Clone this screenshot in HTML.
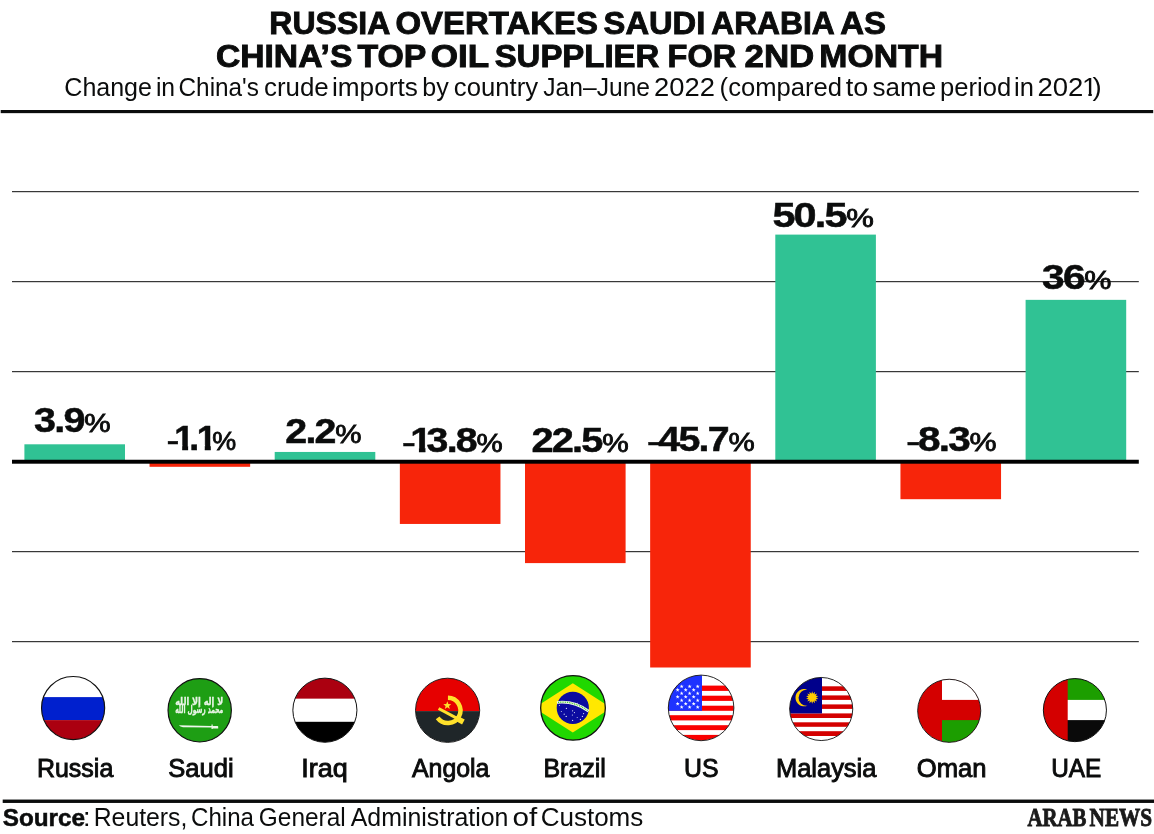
<!DOCTYPE html>
<html lang="en">
<head>
<meta charset="utf-8">
<title>Russia overtakes Saudi Arabia as China's top oil supplier for 2nd month</title>
<style>
html,body{margin:0;padding:0;background:#fff}
#chart{position:relative;width:1154px;height:834px;overflow:hidden;background:#fff;font-family:"Liberation Sans",sans-serif;color:#0b0c0c}
#chart h1,#chart p{margin:0;line-height:1}
#gfx{position:absolute;left:0;top:0;display:block}
.t{position:absolute;left:0;top:0;white-space:nowrap;line-height:1;transform-origin:0 0;letter-spacing:0}
.ttl{-webkit-text-stroke:.9px #0b0c0c}
.v{-webkit-text-stroke:.5px #0b0c0c;letter-spacing:-.045em}
.v .pc{font-size:75%;font-weight:400;-webkit-text-stroke:.8px #0b0c0c;letter-spacing:0;margin-left:.02em}
.v .m{display:inline-block;font-weight:400;-webkit-text-stroke:.3px #0b0c0c;transform:translateY(2px) scaleX(1.12);transform-origin:100% 50%;margin-right:-.02em}
.v .m+.one{margin-left:-.08em}
.v .one{display:inline-block;letter-spacing:0;clip-path:polygon(0 0,.39em 0,.39em 100%,.222em 100%,.222em .7em,0 .7em);margin:0 -.14em 0 -.02em}
.cn{-webkit-text-stroke:.9px #0b0c0c}
.sb{-webkit-text-stroke:.5px #0b0c0c}
.logo{font-family:"Liberation Serif",serif;color:#1a1a1a;-webkit-text-stroke:.9px #1a1a1a}
.sub .one{display:inline-block;clip-path:polygon(0 0,.36em 0,.36em 100%,.235em 100%,.235em .72em,0 .72em);margin:0 -.17em 0 -.05em}

</style>
</head>
<body>
<div id="chart">
<svg id="gfx" width="1154" height="834" viewBox="0 0 1154 834">
<defs>
<clipPath id="c-ru"><circle cx="73.1" cy="708.05" r="31.60"/></clipPath>
<clipPath id="c-sa"><circle cx="199.7" cy="710.3" r="31.70"/></clipPath>
<clipPath id="c-iq"><circle cx="324.9" cy="710.2" r="32.00"/></clipPath>
<clipPath id="c-ao"><circle cx="447.6" cy="710.3" r="32.00"/></clipPath>
<clipPath id="c-br"><circle cx="573.0" cy="707.9" r="32.40"/></clipPath>
<clipPath id="c-us"><circle cx="701.1" cy="707.9" r="32.70"/></clipPath>
<clipPath id="c-my"><circle cx="821.2" cy="709.0" r="31.45"/></clipPath>
<clipPath id="c-om"><circle cx="949.2" cy="710.8" r="31.45"/></clipPath>
<clipPath id="c-ae"><circle cx="1074.9" cy="710.1" r="31.50"/></clipPath>
</defs>
<g id="rules" fill="#0b0c0c">
<rect x="0.7" y="110" width="1152.5" height="3.15"/>
<rect x="2.7" y="799.55" width="1151.3" height="3.4"/>
</g>
<g id="grid" fill="#383838">
<rect x="12" y="191" width="1126.8" height="1.22"/>
<rect x="12" y="281" width="1126.8" height="1.22"/>
<rect x="12" y="371" width="1126.8" height="1.22"/>
<rect x="12" y="551" width="1126.8" height="1.22"/>
<rect x="12" y="641" width="1126.8" height="1.22"/>
</g>
<g id="bars">
<rect x="24.40" y="444.30" width="100.6" height="17.55" fill="#30c294"/>
<rect x="149.55" y="461.85" width="100.6" height="4.95" fill="#f7250a"/>
<rect x="274.70" y="451.95" width="100.6" height="9.90" fill="#30c294"/>
<rect x="399.85" y="461.85" width="100.6" height="62.10" fill="#f7250a"/>
<rect x="525.00" y="461.85" width="100.6" height="101.25" fill="#f7250a"/>
<rect x="650.15" y="461.85" width="100.6" height="205.65" fill="#f7250a"/>
<rect x="775.30" y="234.60" width="100.6" height="227.25" fill="#30c294"/>
<rect x="900.45" y="461.85" width="100.6" height="37.35" fill="#f7250a"/>
<rect x="1025.60" y="299.85" width="100.6" height="162.00" fill="#30c294"/>
</g>
<rect id="axis" x="12" y="459.75" width="1126.8" height="3.95" fill="#000"/>
<g id="flags" stroke-linejoin="round">
<!-- Russia -->
<g clip-path="url(#c-ru)">
<rect x="40" y="675" width="67" height="22.1" fill="#fff"/>
<rect x="40" y="697.1" width="67" height="23" fill="#0020ce"/>
<rect x="40" y="720.1" width="67" height="21" fill="#ab0010"/>
</g>
<circle cx="73.1" cy="708.05" r="31.57" fill="none" stroke="#111" stroke-width="1.15"/>
<!-- Saudi -->
<g clip-path="url(#c-sa)">
<rect x="166" y="677" width="68" height="67" fill="#1e9e14"/>
<text x="199.2" y="704.9" text-anchor="middle" textLength="48" lengthAdjust="spacingAndGlyphs" font-family="'DejaVu Sans',sans-serif" font-weight="700" font-size="10.6" fill="#e9f5e6" stroke="#e9f5e6" stroke-width=".3" direction="rtl" xml:lang="ar">لا إله إلا الله</text>
<text x="199.2" y="713.3" text-anchor="middle" textLength="48" lengthAdjust="spacingAndGlyphs" font-family="'DejaVu Sans',sans-serif" font-weight="700" font-size="10.6" fill="#e9f5e6" stroke="#e9f5e6" stroke-width=".3" direction="rtl" xml:lang="ar">محمد رسول الله</text>
<path d="M178.8 725.3 L211.5 725.9 L211.5 724.4 L212.7 724.4 L212.7 725.9 L217.6 725.9 L218.2 726.6 L218.2 728.6 L212.7 728.6 L212.7 729 L211.5 729 L211.5 727.5 L183 727.3 Q180.2 726.8 178.8 725.3Z" fill="#eef7ec"/>
</g>
<circle cx="199.7" cy="710.3" r="31.68" fill="none" stroke="#111" stroke-width="1.15"/>
<!-- Iraq -->
<g clip-path="url(#c-iq)">
<rect x="291" y="676" width="68" height="22.8" fill="#ab0010"/>
<rect x="291" y="698.8" width="68" height="23" fill="#fff"/>
<rect x="291" y="721.8" width="68" height="22" fill="#000"/>
</g>
<circle cx="324.9" cy="710.2" r="32.05" fill="none" stroke="#111" stroke-width="1.0"/>
<!-- Angola -->
<g clip-path="url(#c-ao)">
<rect x="414" y="677" width="68" height="34.1" fill="#e60000"/>
<rect x="414" y="711.1" width="68" height="33" fill="#1f2629"/>
<g fill="none" stroke="#ffe12b">
<path d="M447.94 697.77 A12.65 12.65 0 1 1 437.6 717.9" stroke-width="4.5"/>
<path d="M438.6 708.5 L458.5 719.2" stroke-width="3.1"/>
<path d="M455.8 717.9 L463.4 722" stroke-width="5.6"/>
</g>
<path d="M447.3 701.3 l1.05 2.75 2.95 .15 -2.3 1.85 .77 2.85 -2.47 -1.62 -2.47 1.62 .77 -2.85 -2.3 -1.85 2.95 -.15z" fill="#ffe12b"/>
</g>
<circle cx="447.6" cy="710.3" r="32.10" fill="none" stroke="#111" stroke-width="0.9"/>
<!-- Brazil -->
<g clip-path="url(#c-br)">
<rect x="539" y="674" width="68" height="68" fill="#20d800"/>
<path d="M572.8 683.3 L611.2 707.9 L572.8 732.5 L534.4 707.9Z" fill="#ffe800"/>
<circle cx="572.8" cy="707.9" r="16.1" fill="#0b0ba0"/>
<path d="M556.9 702.5 Q574 700.6 588.6 711.2" fill="none" stroke="#f2f7ee" stroke-width="2.7"/>
<path d="M558 702.4 Q574 700.7 587.6 710.5" fill="none" stroke="#2fc41a" stroke-width="1.3" stroke-dasharray=".9 .9"/>
<g fill="#dfe3f5">
<circle cx="566.4" cy="708.4" r=".6"/><circle cx="561.3" cy="711.6" r=".5"/><circle cx="564.2" cy="714.2" r=".6"/>
<circle cx="566.2" cy="716.4" r=".7"/><circle cx="572.6" cy="710.8" r=".6"/><circle cx="574.4" cy="712.6" r=".6"/>
<circle cx="572.4" cy="715" r=".6"/><circle cx="572.6" cy="720.4" r=".6"/><circle cx="577.2" cy="717.4" r=".5"/>
<circle cx="580.4" cy="719.4" r=".6"/><circle cx="582.4" cy="716.4" r=".6"/><circle cx="583.6" cy="713.6" r=".6"/>
<circle cx="559.4" cy="705.6" r=".5"/><circle cx="577.4" cy="703.2" r=".5"/>
</g>
</g>
<circle cx="573" cy="707.9" r="32.33" fill="none" stroke="#111" stroke-width="1.25"/>
<!-- US -->
<g clip-path="url(#c-us)">
<rect x="667" y="674" width="69" height="68" fill="#fff"/>
<g fill="#fa0000">
<rect x="667" y="685.6" width="69" height="5.3"/><rect x="667" y="695.7" width="69" height="5.2"/>
<rect x="667" y="705.7" width="69" height="5.1"/><rect x="667" y="715.2" width="69" height="5.2"/>
<rect x="667" y="725.2" width="69" height="4.9"/><rect x="667" y="734.9" width="69" height="6.5"/>
</g>
<rect x="667" y="674" width="35" height="36.8" fill="#1e33ff"/>
<g fill="#fff" id="us-stars">
<path d="M681.67 684.41 L682.17 685.82 L683.67 685.86 L682.48 686.77 L682.90 688.21 L681.67 687.36 L680.44 688.21 L680.86 686.77 L679.67 685.86 L681.17 685.82Z"/>
<path d="M689.64 684.41 L690.13 685.82 L691.63 685.86 L690.44 686.77 L690.87 688.21 L689.64 687.36 L688.40 688.21 L688.83 686.77 L687.64 685.86 L689.14 685.82Z"/>
<path d="M697.70 684.41 L698.20 685.82 L699.69 685.86 L698.51 686.77 L698.93 688.21 L697.70 687.36 L696.46 688.21 L696.89 686.77 L695.70 685.86 L697.20 685.82Z"/>
<path d="M677.64 687.86 L678.14 689.27 L679.64 689.31 L678.45 690.22 L678.87 691.66 L677.64 690.81 L676.40 691.66 L676.83 690.22 L675.64 689.31 L677.14 689.27Z"/>
<path d="M685.70 687.86 L686.20 689.27 L687.70 689.31 L686.51 690.22 L686.93 691.66 L685.70 690.81 L684.47 691.66 L684.89 690.22 L683.70 689.31 L685.20 689.27Z"/>
<path d="M693.67 687.86 L694.17 689.27 L695.66 689.31 L694.47 690.22 L694.90 691.66 L693.67 690.81 L692.43 691.66 L692.86 690.22 L691.67 689.31 L693.17 689.27Z"/>
<path d="M681.67 691.22 L682.17 692.63 L683.67 692.67 L682.48 693.58 L682.90 695.02 L681.67 694.17 L680.44 695.02 L680.86 693.58 L679.67 692.67 L681.17 692.63Z"/>
<path d="M689.64 691.22 L690.13 692.63 L691.63 692.67 L690.44 693.58 L690.87 695.02 L689.64 694.17 L688.40 695.02 L688.83 693.58 L687.64 692.67 L689.14 692.63Z"/>
<path d="M697.70 691.22 L698.20 692.63 L699.69 692.67 L698.51 693.58 L698.93 695.02 L697.70 694.17 L696.46 695.02 L696.89 693.58 L695.70 692.67 L697.20 692.63Z"/>
<path d="M677.64 694.77 L678.14 696.18 L679.64 696.22 L678.45 697.13 L678.87 698.57 L677.64 697.72 L676.40 698.57 L676.83 697.13 L675.64 696.22 L677.14 696.18Z"/>
<path d="M685.70 694.77 L686.20 696.18 L687.70 696.22 L686.51 697.13 L686.93 698.57 L685.70 697.72 L684.47 698.57 L684.89 697.13 L683.70 696.22 L685.20 696.18Z"/>
<path d="M693.67 694.77 L694.17 696.18 L695.66 696.22 L694.47 697.13 L694.90 698.57 L693.67 697.72 L692.43 698.57 L692.86 697.13 L691.67 696.22 L693.17 696.18Z"/>
<path d="M681.67 698.23 L682.17 699.64 L683.67 699.68 L682.48 700.59 L682.90 702.03 L681.67 701.18 L680.44 702.03 L680.86 700.59 L679.67 699.68 L681.17 699.64Z"/>
<path d="M689.64 698.23 L690.13 699.64 L691.63 699.68 L690.44 700.59 L690.87 702.03 L689.64 701.18 L688.40 702.03 L688.83 700.59 L687.64 699.68 L689.14 699.64Z"/>
<path d="M697.70 698.23 L698.20 699.64 L699.69 699.68 L698.51 700.59 L698.93 702.03 L697.70 701.18 L696.46 702.03 L696.89 700.59 L695.70 699.68 L697.20 699.64Z"/>
<path d="M677.64 701.68 L678.14 703.09 L679.64 703.13 L678.45 704.04 L678.87 705.48 L677.64 704.63 L676.40 705.48 L676.83 704.04 L675.64 703.13 L677.14 703.09Z"/>
<path d="M685.70 701.68 L686.20 703.09 L687.70 703.13 L686.51 704.04 L686.93 705.48 L685.70 704.63 L684.47 705.48 L684.89 704.04 L683.70 703.13 L685.20 703.09Z"/>
<path d="M693.67 701.68 L694.17 703.09 L695.66 703.13 L694.47 704.04 L694.90 705.48 L693.67 704.63 L692.43 705.48 L692.86 704.04 L691.67 703.13 L693.17 703.09Z"/>
<path d="M681.67 705.04 L682.17 706.45 L683.67 706.49 L682.48 707.40 L682.90 708.84 L681.67 707.99 L680.44 708.84 L680.86 707.40 L679.67 706.49 L681.17 706.45Z"/>
<path d="M689.64 705.04 L690.13 706.45 L691.63 706.49 L690.44 707.40 L690.87 708.84 L689.64 707.99 L688.40 708.84 L688.83 707.40 L687.64 706.49 L689.14 706.45Z"/>
<path d="M697.70 705.04 L698.20 706.45 L699.69 706.49 L698.51 707.40 L698.93 708.84 L697.70 707.99 L696.46 708.84 L696.89 707.40 L695.70 706.49 L697.20 706.45Z"/>
</g>
</g>
<circle cx="701.1" cy="707.9" r="32.80" fill="none" stroke="#111" stroke-width="0.9"/>
<!-- Malaysia -->
<g clip-path="url(#c-my)">
<rect x="788" y="676" width="67" height="67" fill="#fff"/>
<g fill="#d40000">
<rect x="788" y="686.3" width="67" height="4.6"/><rect x="788" y="695.4" width="67" height="4.5"/>
<rect x="788" y="704.4" width="67" height="4.5"/><rect x="788" y="713.4" width="67" height="4.6"/>
<rect x="788" y="722.3" width="67" height="4.5"/><rect x="788" y="731.2" width="67" height="4.8"/>
</g>
<rect x="788" y="676" width="34" height="37.4" fill="#00008b"/>
<path d="M807.5 689.7 A8.67 8.67 0 1 0 807.5 705.7 A8.05 8.05 0 1 1 807.5 689.7Z" fill="#ffcc00"/>
<path d="M812.20 691.20 L813.07 693.70 L814.93 691.82 L814.63 694.45 L817.13 693.57 L815.71 695.81 L818.34 696.10 L816.10 697.50 L818.34 698.90 L815.71 699.19 L817.13 701.43 L814.63 700.55 L814.93 703.18 L813.07 701.30 L812.20 703.80 L811.33 701.30 L809.47 703.18 L809.77 700.55 L807.27 701.43 L808.69 699.19 L806.06 698.90 L808.30 697.50 L806.06 696.10 L808.69 695.81 L807.27 693.57 L809.77 694.45 L809.47 691.82 L811.33 693.70Z" fill="#ffcc00"/>
</g>
<circle cx="821.2" cy="709" r="31.55" fill="none" stroke="#111" stroke-width="0.9"/>
<!-- Oman -->
<g clip-path="url(#c-om)">
<rect x="916" y="678" width="67" height="67" fill="#d40000"/>
<rect x="942" y="678" width="41" height="21.9" fill="#fff"/>
<rect x="942" y="720.1" width="41" height="24" fill="#1c9e00"/>
</g>
<circle cx="949.2" cy="710.8" r="31.55" fill="none" stroke="#111" stroke-width="0.9"/>
<!-- UAE -->
<g clip-path="url(#c-ae)">
<rect x="1042" y="677" width="67" height="67" fill="#fff"/>
<rect x="1066" y="677" width="43" height="22.9" fill="#1c9e00"/>
<rect x="1066" y="720.1" width="43" height="24" fill="#0a0a0a"/>
<rect x="1042" y="677" width="25.7" height="67" fill="#d40000"/>
</g>
<circle cx="1074.9" cy="710.1" r="31.55" fill="none" stroke="#111" stroke-width="1.0"/>
</g>

</svg>
<header>
<h1 id="title" class="ttl" style="font-size:31.4px;font-weight:700"><span id="t1w0" class="t" style="transform:translate(269.36px,8px) scaleX(1.0193)">RUSSIA</span> <span id="t1w1" class="t" style="transform:translate(395.5px,8px) scaleX(1.0485)">OVERTAKES</span> <span id="t1w2" class="t" style="transform:translate(603.59px,8px) scaleX(1.0416)">SAUDI</span> <span id="t1w3" class="t" style="transform:translate(711.21px,8px) scaleX(1.0115)">ARABIA</span> <span id="t1w4" class="t" style="transform:translate(840.17px,8px) scaleX(1.0501)">AS</span><br>
<span id="t2w0" class="t" style="transform:translate(215.93px,41px) scaleX(1.0715)">CHINA’S</span> <span id="t2w1" class="t" style="transform:translate(357.46px,41px) scaleX(1.0780)">TOP</span> <span id="t2w2" class="t" style="transform:translate(430.68px,41px) scaleX(1.1184)">OIL</span> <span id="t2w3" class="t" style="transform:translate(494.64px,41px) scaleX(1.0494)">SUPPLIER</span> <span id="t2w4" class="t" style="transform:translate(667.62px,41px) scaleX(1.0361)">FOR</span> <span id="t2w5" class="t" style="transform:translate(744.48px,41px) scaleX(1.1121)">2ND</span> <span id="t2w6" class="t" style="transform:translate(819.35px,41px) scaleX(1.0751)">MONTH</span></h1>
<p id="sub" class="sub" aria-label="Change in China's crude imports by country Jan–June 2022 (compared to same period in 2021)" style="font-size:25.6px;font-weight:400"><span id="subw0" class="t" style="transform:translate(64.33px,75px) scaleX(0.9771)">Change</span> <span id="subw1" class="t" style="transform:translate(155.88px,75px) scaleX(0.9644)">in</span> <span id="subw2" class="t" style="transform:translate(178.52px,75px) scaleX(0.9510)">China's</span> <span id="subw3" class="t" style="transform:translate(263.94px,75px) scaleX(1.0119)">crude</span> <span id="subw4" class="t" style="transform:translate(331.98px,75px) scaleX(1.0234)">imports</span> <span id="subw5" class="t" style="transform:translate(422.23px,75px) scaleX(0.9794)">by</span> <span id="subw6" class="t" style="transform:translate(453.79px,75px) scaleX(1.0042)">country</span> <span id="subw7" class="t" style="transform:translate(543.32px,75px) scaleX(0.9615)">Jan–June</span> <span id="subw8" class="t" style="transform:translate(654.12px,75px) scaleX(1.0684)">2022</span> <span id="subw9" class="t" style="transform:translate(719.62px,75px) scaleX(0.9999)">(compared</span> <span id="subw10" class="t" style="transform:translate(845.84px,75px) scaleX(1.0553)">to</span> <span id="subw11" class="t" style="transform:translate(872.61px,75px) scaleX(1.0146)">same</span> <span id="subw12" class="t" style="transform:translate(940.04px,75px) scaleX(0.9999)">period</span> <span id="subw13" class="t" style="transform:translate(1014.07px,75px) scaleX(0.9949)">in</span> <span id="subw14" class="t" style="transform:translate(1037.39px,75px) scaleX(1.0747)">202<span class="one">1</span>)</span></p>
</header>
<section id="values">
<div id="v1" class="t v" aria-label="3.9%" style="font-size:34.2px;font-weight:700;transform:translate(34px,403px) scaleX(1.1553)">3.9<span class="pc">%</span></div>
<div id="v2" class="t v" aria-label="-1.1%" style="font-size:34.2px;font-weight:700;transform:translate(167.47px,421px) scaleX(1.0486)"><span class="m">-</span><span class="one">1</span>.<span class="one">1</span><span class="pc">%</span></div>
<div id="v3" class="t v" aria-label="2.2%" style="font-size:34.2px;font-weight:700;transform:translate(285.3px,414px) scaleX(1.1515)">2.2<span class="pc">%</span></div>
<div id="v4" class="t v" aria-label="-13.8%" style="font-size:34.2px;font-weight:700;transform:translate(402.79px,423px) scaleX(1.1499)"><span class="m">-</span><span class="one">1</span>3.8<span class="pc">%</span></div>
<div id="v5" class="t v" aria-label="22.5%" style="font-size:34.2px;font-weight:700;transform:translate(531.38px,423px) scaleX(1.1623)">22.5<span class="pc">%</span></div>
<div id="v6" class="t v" aria-label="-45.7%" style="font-size:34.2px;font-weight:700;transform:translate(647.79px,422px) scaleX(1.1501)"><span class="m">-</span>45.7<span class="pc">%</span></div>
<div id="v7" class="t v" aria-label="50.5%" style="font-size:34.2px;font-weight:700;transform:translate(772.44px,198px) scaleX(1.2122)">50.5<span class="pc">%</span></div>
<div id="v8" class="t v" aria-label="-8.3%" style="font-size:34.2px;font-weight:700;transform:translate(907.12px,422px) scaleX(1.1860)"><span class="m">-</span>8.3<span class="pc">%</span></div>
<div id="v9" class="t v" aria-label="36%" style="font-size:34.2px;font-weight:700;transform:translate(1042.06px,260px) scaleX(1.1914)">36<span class="pc">%</span></div>
</section>
<section id="countries">
<div id="c1" class="t cn" style="font-size:25.2px;font-weight:400;transform:translate(36.95px,756px) scaleX(0.9915)">Russia</div>
<div id="c2" class="t cn" style="font-size:25.2px;font-weight:400;transform:translate(168.23px,756px) scaleX(1.0145)">Saudi</div>
<div id="c3" class="t cn" style="font-size:25.2px;font-weight:400;transform:translate(301.31px,756px) scaleX(1.0706)">Iraq</div>
<div id="c4" class="t cn" style="font-size:25.2px;font-weight:400;transform:translate(411.92px,756px) scaleX(0.9887)">Angola</div>
<div id="c5" class="t cn" style="font-size:25.2px;font-weight:400;transform:translate(543.4px,756px) scaleX(0.9927)">Brazil</div>
<div id="c6" class="t cn" style="font-size:25.2px;font-weight:400;transform:translate(683.98px,756px) scaleX(0.9862)">US</div>
<div id="c7" class="t cn" style="font-size:25.2px;font-weight:400;transform:translate(775.97px,756px) scaleX(1.0105)">Malaysia</div>
<div id="c8" class="t cn" style="font-size:25.2px;font-weight:400;transform:translate(916.81px,756px) scaleX(1.0168)">Oman</div>
<div id="c9" class="t cn" style="font-size:25.2px;font-weight:400;transform:translate(1051.15px,756px) scaleX(0.9673)">UAE</div>
</section>
<footer>
<p id="src" class="src" style="font-size:25.2px;font-weight:400"><b id="srcw0" class="t sb" style="font-size:24.6px;font-weight:700;transform:translate(2.72px,806px) scaleX(0.9881)">Source</b><span id="srcw1" class="t" style="transform:translate(83.08px,805px) scaleX(1.0719)">:</span> <span id="srcw2" class="t" style="transform:translate(93.7px,805px) scaleX(0.9839)">Reuters,</span> <span id="srcw3" class="t" style="transform:translate(191.06px,805px) scaleX(0.9566)">China</span> <span id="srcw4" class="t" style="transform:translate(258.86px,805px) scaleX(0.9687)">General</span> <span id="srcw5" class="t" style="transform:translate(350.69px,805px) scaleX(0.9885)">Administration</span> <span id="srcw6" class="t" style="transform:translate(512.4px,805px) scaleX(1.1769)">of</span> <span id="srcw7" class="t" style="transform:translate(540.64px,805px) scaleX(1.0329)">Customs</span></p>
<div id="logo" class="logo" style="font-size:26.2px;font-weight:700"><span id="logow0" class="t" style="transform:translate(1027.58px,805px) scaleX(0.7937)">ARAB</span> <span id="logow1" class="t" style="transform:translate(1089.61px,805px) scaleX(0.8104)">NEWS</span></div>
</footer>
</div>

</body>
</html>
